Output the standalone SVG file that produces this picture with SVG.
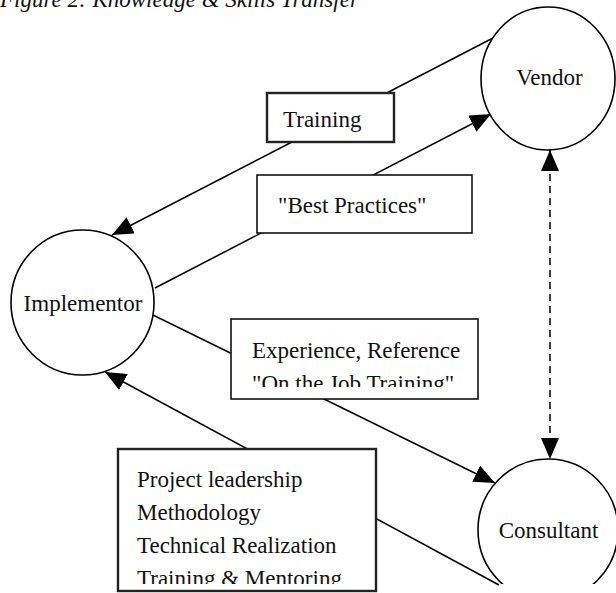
<svg xmlns="http://www.w3.org/2000/svg" width="616" height="593" viewBox="0 0 616 593">
  <defs>
    <style>
      text { font-family: "Liberation Serif", "Times New Roman", serif; font-size: 23px; fill: #111; }
      .title { font-style: italic; }
      .node { fill: #fff; stroke: #000; stroke-width: 1.6; }
      .box { fill: #fff; stroke: #111; stroke-width: 1.6; }
      .box-thick { fill: #fff; stroke: #222; stroke-width: 2.4; }
      .conn { stroke: #000; stroke-width: 1.5; fill: none; }
      .dash { stroke-dasharray: 7 5; }
    </style>
    <marker id="arrow" viewBox="0 0 21 18" refX="21" refY="9" markerWidth="21" markerHeight="18" markerUnits="userSpaceOnUse" orient="auto-start-reverse">
      <path d="M0,0 L21,9 L0,18 z" fill="#000"/>
    </marker>
    <clipPath id="clipPage"><rect x="0" y="0" width="616" height="584"/></clipPath>
    <clipPath id="clipExp"><rect x="231" y="319" width="247" height="68"/></clipPath>
    <clipPath id="clipLow"><rect x="118" y="449" width="258" height="135"/></clipPath>
  </defs>

  <text class="title" x="0" y="7">Figure 2: Knowledge &amp; Skills Transfer</text>

  <g id="connectors">
    <line class="conn" x1="493" y1="38" x2="112" y2="235" marker-end="url(#arrow)"/>
    <line class="conn" x1="155" y1="288" x2="491" y2="114" marker-end="url(#arrow)"/>
    <line class="conn" x1="153" y1="315" x2="495" y2="483" marker-end="url(#arrow)"/>
    <line class="conn" x1="499" y1="585" x2="105" y2="372" marker-end="url(#arrow)"/>
    <line class="conn dash" x1="550" y1="150" x2="550" y2="459" marker-start="url(#arrow)" marker-end="url(#arrow)"/>
  </g>

  <g id="vendor">
    <ellipse class="node" cx="548" cy="78.5" rx="67" ry="71.5"/>
    <text x="549.5" y="85" text-anchor="middle">Vendor</text>
  </g>

  <g id="implementor">
    <ellipse class="node" cx="82.5" cy="302.5" rx="71.5" ry="72.5"/>
    <text x="83" y="311" text-anchor="middle">Implementor</text>
  </g>

  <g id="consultant" clip-path="url(#clipPage)">
    <ellipse class="node" cx="548" cy="530" rx="70" ry="71"/>
    <text x="548.5" y="538" text-anchor="middle">Consultant</text>
  </g>

  <g id="label-training">
    <rect class="box-thick" x="267" y="93" width="127" height="49"/>
    <text x="283" y="127">Training</text>
  </g>

  <g id="label-best-practices">
    <rect class="box" x="257" y="175" width="215" height="58"/>
    <text x="278" y="213">"Best Practices"</text>
  </g>

  <g id="label-experience">
    <rect class="box" x="231" y="319" width="247" height="80"/>
    <g clip-path="url(#clipExp)">
      <text x="252" y="358">Experience, Reference</text>
      <text x="252" y="391">"On the Job Training"</text>
    </g>
  </g>

  <g id="label-consulting">
    <rect class="box-thick" x="118" y="449" width="258" height="142"/>
    <g clip-path="url(#clipLow)">
      <text x="137" y="487">Project leadership</text>
      <text x="137" y="520">Methodology</text>
      <text x="137" y="553">Technical Realization</text>
      <text x="137" y="586">Training &amp; Mentoring</text>
    </g>
  </g>
</svg>
